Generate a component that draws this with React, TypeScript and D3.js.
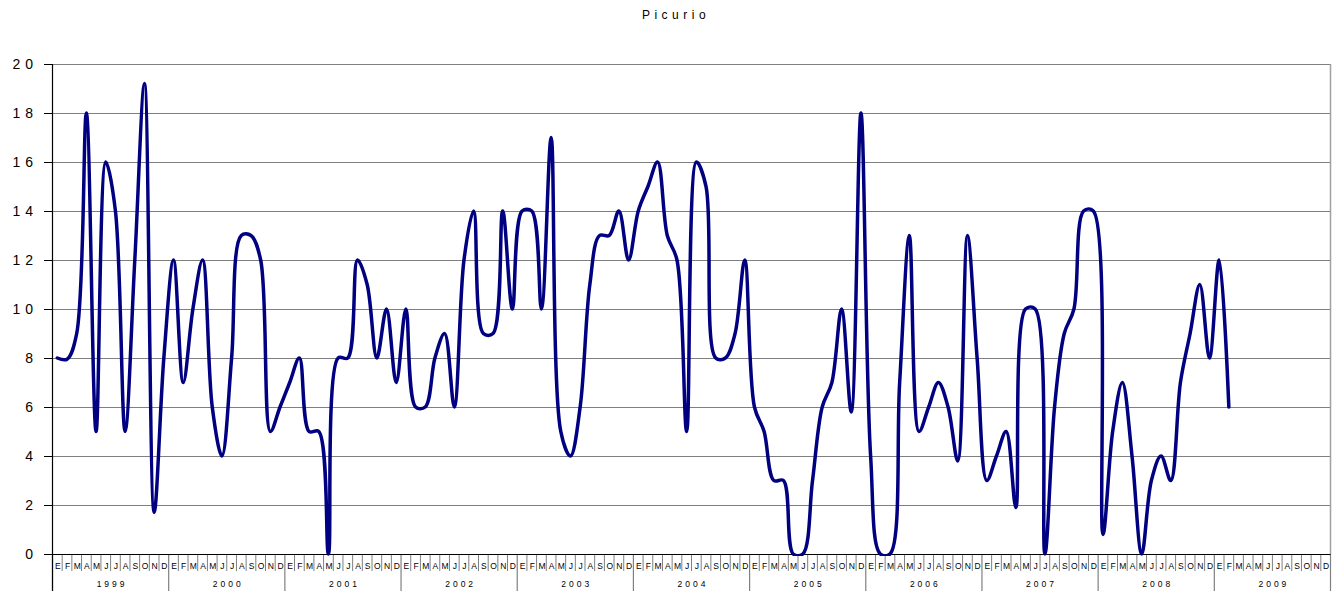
import React from "react";
import * as d3 from "d3";

const title = "Picurio";
const years = ["1999", "2000", "2001", "2002", "2003", "2004", "2005", "2006", "2007", "2008", "2009"];
const monthLabels = ["E", "F", "M", "A", "M", "J", "J", "A", "S", "O", "N", "D"];
const yTicks = [0, 2, 4, 6, 8, 10, 12, 14, 16, 18, 20];

// monthly values, one array per year (2009 stops in February)
const v1999 = [8, 7.95, 9, 18, 5, 16, 14, 5, 12, 19.2, 1.7, 8];
const v2000 = [12, 7, 10, 12, 6, 4, 8, 13, 13, 12, 5, 6];
const v2001 = [7, 8, 5, 5, 0, 8, 8, 12, 11, 8, 10, 7];
const v2002 = [10, 6, 6, 8, 9, 6, 12, 14, 9, 9, 14, 10];
const v2003 = [14, 14, 10, 17, 5, 4, 6, 11, 13, 13, 14, 12];
const v2004 = [14, 15, 16, 13, 12, 5, 16, 15, 8, 8, 9, 12];
const v2005 = [6, 5, 3, 3, 0, 0, 3, 6, 7, 10, 5.8, 18];
const v2006 = [4, 0, 0, 7, 13, 5, 6, 7, 6, 3.8, 13, 8];
const v2007 = [3, 4, 5, 1.9, 10, 10, 0, 6, 9, 10, 14, 14];
const v2008 = [0.8, 5, 7, 4, 0, 3, 4, 3, 7, 9, 11, 8];
const v2009 = [12, 6];

const W = 1340;
const H = 591;
const left = 52.5;
const right = 1330.5;
const top = 64;
const bottom = 554;

export default function App() {
  const values: (number | null)[] = [];
  [v1999, v2000, v2001, v2002, v2003, v2004, v2005, v2006, v2007, v2008, v2009].forEach((arr) => {
    for (let m = 0; m < 12; m++) values.push(m < arr.length ? arr[m] : null);
  });
  const idx = d3.range(values.length);

  const x = d3.scaleBand<number>().domain(idx).range([left, right]).padding(0);
  const y = d3.scaleLinear().domain([0, 20]).range([bottom, top]);
  const bw = x.bandwidth();

  const line = d3
    .line<number>()
    .defined((i) => values[i] != null)
    .x((i) => (x(i) as number) + bw / 2)
    .y((i) => y(values[i] as number))
    .curve(d3.curveCatmullRom.alpha(0.5));

  const font = "'Liberation Sans', Arial, sans-serif";

  return (
    <svg width={W} height={H} style={{ position: "absolute", left: 0, top: 0, background: "#fff" }}>
      <defs>
        {/* the spreadsheet clips the smoothed line to its plot area */}
        <clipPath id="plot">
          <rect x={left} y={top - 10} width={right - left} height={bottom - top + 12} />
        </clipPath>
      </defs>
      <text x={W / 2 + 6} y={19} textAnchor="middle" fontFamily={font} fontSize={12} letterSpacing={4.5} fill="#000">
        {title}
      </text>

      {yTicks.map((t) => (
        <g key={t}>
          {t > 0 && <line x1={left} x2={right} y1={Math.round(y(t)) + 0.5} y2={Math.round(y(t)) + 0.5} stroke="#7f7f7f" strokeWidth={1} />}
          <line x1={44} x2={left} y1={Math.round(y(t)) + 0.5} y2={Math.round(y(t)) + 0.5} stroke="#000" strokeWidth={1} />
          <text x={38} y={y(t) + 5} textAnchor="end" fontFamily={font} fontSize={14} letterSpacing={5} fill="#000">
            {t}
          </text>
        </g>
      ))}

      <line x1={right} x2={right} y1={top} y2={bottom} stroke="#a0a0a0" strokeWidth={1.5} />

      {idx.map((i) => (
        <g key={i}>
          {i % 12 !== 0 && (
            <line x1={x(i)} x2={x(i)} y1={bottom} y2={571} stroke="#808080" strokeWidth={1} />
          )}
          <text x={(x(i) as number) + bw / 2 + 0.5} y={569} textAnchor="middle" fontFamily={font} fontSize={8.5} fill="#000">
            {monthLabels[i % 12]}
          </text>
        </g>
      ))}

      {years.map((yr, k) => (
        <g key={yr}>
          <line x1={x(k * 12)} x2={x(k * 12)} y1={bottom} y2={591} stroke="#808080" strokeWidth={1.2} />
          <text
            x={(x(k * 12) as number) + bw * 6 + 1.5}
            y={587}
            textAnchor="middle"
            fontFamily={font}
            fontSize={8.5}
            letterSpacing={3}
            fill="#000"
          >
            {yr}
          </text>
        </g>
      ))}
      <line x1={right} x2={right} y1={bottom} y2={591} stroke="#808080" strokeWidth={1.2} />

      <line x1={left} x2={left} y1={top} y2={591} stroke="#000" strokeWidth={1.2} />
      <line x1={left} x2={right} y1={bottom + 0.5} y2={bottom + 0.5} stroke="#000" strokeWidth={1.2} />

      <g clipPath="url(#plot)">
        <path
          d={line(idx) ?? ""}
          fill="none"
          stroke="#000080"
          strokeWidth={3.5}
          strokeLinejoin="round"
          strokeLinecap="round"
        />
      </g>
    </svg>
  );
}
